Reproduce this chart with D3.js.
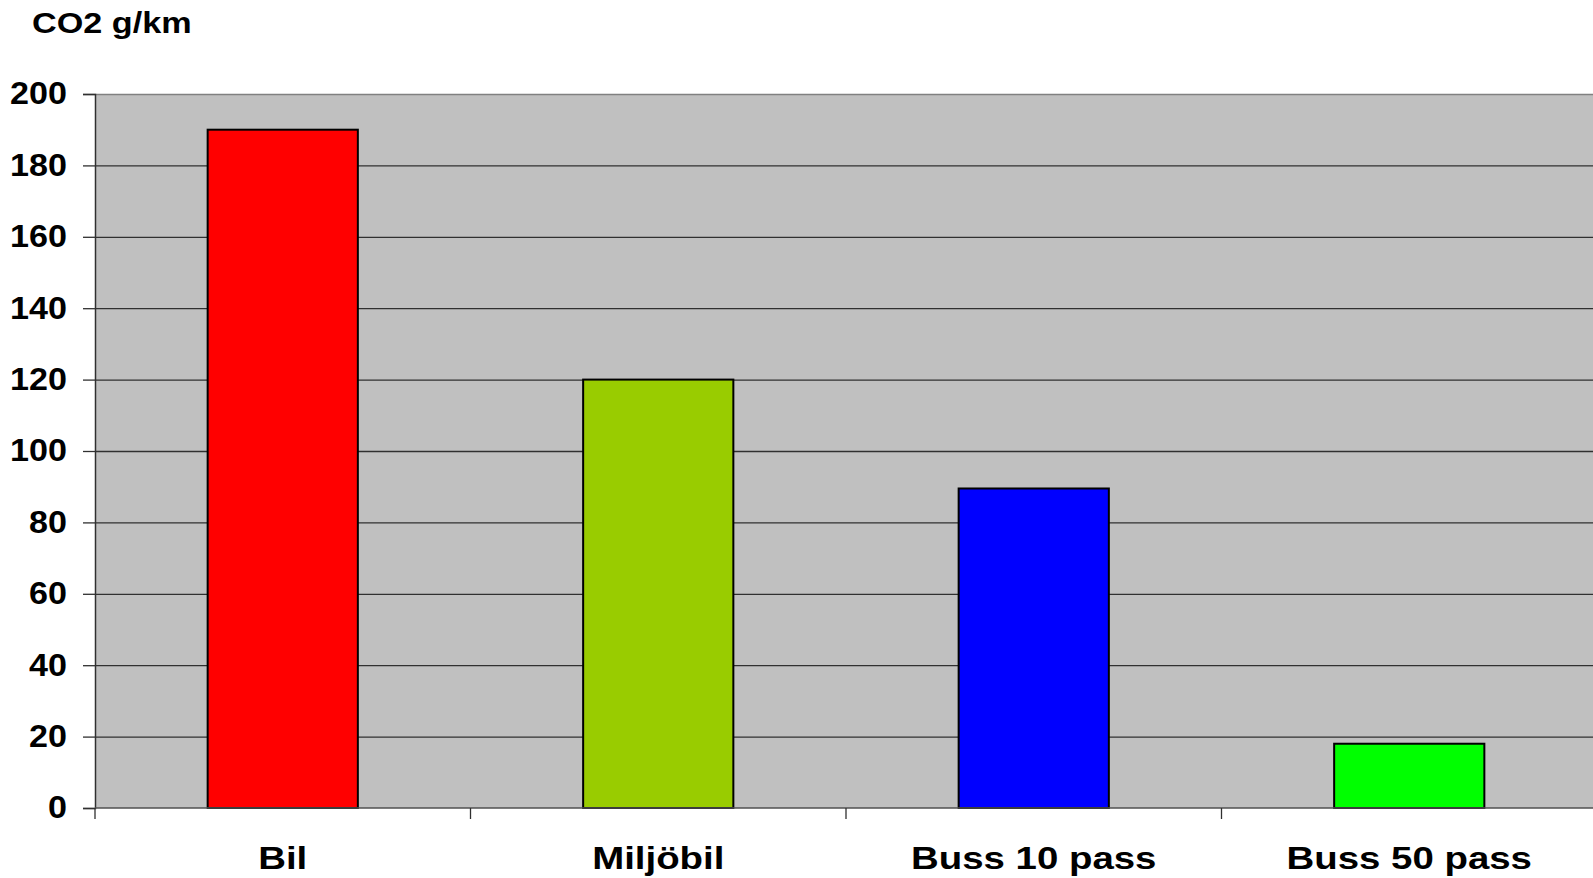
<!DOCTYPE html>
<html>
<head>
<meta charset="utf-8">
<script src="https://cdnjs.cloudflare.com/ajax/libs/d3/7.8.5/d3.min.js"></script>
<style>
  body { margin: 0; background: #fff; }
  text { font-family: "Liberation Sans", Arial, sans-serif; font-weight: bold; fill: #000; }
</style>
</head>
<body>
<div id="chart"></div>
<script>
var categories = ["Bil", "Miljöbil", "Buss 10 pass", "Buss 50 pass"];
var co2Values = [190, 120, 89.5, 18];
var barColors = ["#ff0000", "#99cc00", "#0000ff", "#00ff00"];
var yTicks = [0, 20, 40, 60, 80, 100, 120, 140, 160, 180, 200];

var svgWidth = 1593;
var svgHeight = 878;

var margin = { top: 94, left: 95, right: -4, bottom: 70 };
var width = svgWidth - margin.left - margin.right;
var height = svgHeight - margin.top - margin.bottom;

var svg = d3.select("#chart").append("svg").attr("width", svgWidth).attr("height", svgHeight);

var chartGroup = svg.append("g").attr("transform", `translate(${margin.left},${margin.top})`);

var xScale = d3.scaleBand().domain(categories).range([0, width]).padding(0);
var yScale = d3.scaleLinear().domain([0, 200]).range([height, 0]);

// plot background
chartGroup.append("rect").attr("x", 0).attr("y", 0).attr("width", width).attr("height", height).attr("fill", "#c0c0c0");

// gridlines
chartGroup.selectAll(".grid").data(yTicks.filter(d => d > 0)).enter().append("line")
    .attr("x1", 0).attr("x2", width)
    .attr("y1", d => yScale(d) + 0.5).attr("y2", d => yScale(d) + 0.5)
    .attr("stroke", d => d === 200 ? "#808080" : "#303030").attr("stroke-width", 1.3);

// bars
var barW = xScale.bandwidth() * 0.4;
chartGroup.selectAll(".bar").data(co2Values).enter().append("rect")
    .attr("x", (d, i) => xScale(categories[i]) + xScale.bandwidth() / 2 - barW / 2)
    .attr("y", d => yScale(d))
    .attr("width", barW)
    .attr("height", d => height - yScale(d))
    .attr("fill", (d, i) => barColors[i])
    .attr("stroke", "#000").attr("stroke-width", 2);

// y axis
var leftAxis = d3.axisLeft(yScale).tickValues(yTicks).tickSize(12).tickPadding(16);
var yAxis = chartGroup.append("g").call(leftAxis);
yAxis.select(".domain").attr("stroke", "#303030").attr("stroke-width", 1.5);
yAxis.selectAll(".tick line").attr("stroke", "#303030").attr("stroke-width", 1.3);
yAxis.selectAll("text")
    .attr("font-size", "31px").attr("font-family", "Liberation Sans, Arial, sans-serif")
    .attr("font-weight", "bold").attr("fill", "#000")
    .attr("x", 0).attr("transform", "translate(-28,0) scale(1.1,1)");

// x axis
chartGroup.append("line").attr("x1", 0).attr("x2", width).attr("y1", height).attr("y2", height)
    .attr("stroke", "#505050").attr("stroke-width", 1.5);
var boundaries = categories.map(c => xScale(c));
chartGroup.selectAll(".xtick").data(boundaries).enter().append("line")
    .attr("x1", d => d).attr("x2", d => d)
    .attr("y1", height).attr("y2", height + 11)
    .attr("stroke", "#303030").attr("stroke-width", 1.3);

chartGroup.selectAll(".xlabel").data(categories).enter().append("text")
    .attr("transform", d => `translate(${xScale(d) + xScale.bandwidth() / 2},${height + 61}) scale(1.2,1)`)
    .attr("text-anchor", "middle")
    .attr("font-size", "32px")
    .text(d => d);

// title
svg.append("text").attr("font-size", "30px")
    .attr("transform", "translate(32,33) scale(1.14,1)")
    .text("CO2 g/km");
</script>
</body>
</html>
